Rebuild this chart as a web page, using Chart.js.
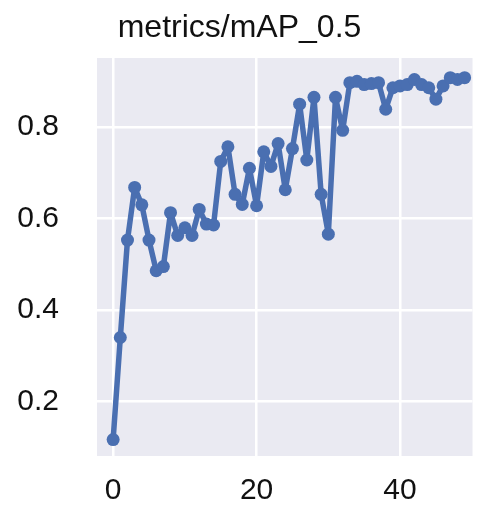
<!DOCTYPE html>
<html>
<head>
<meta charset="utf-8">
<script src="https://cdn.jsdelivr.net/npm/chart.js@4"></script>
<style>
  html, body { margin: 0; padding: 0; background: #ffffff; }
  #wrap { width: 479px; height: 512px; }
</style>
</head>
<body>
<div id="wrap"><canvas id="myChart"></canvas></div>
<script>
// epochs and mAP@0.5 values
var epochs = [];
for (var i = 0; i < 50; i++) epochs.push(i);
var mapValues = [
  0.117, 0.340, 0.553, 0.668, 0.630, 0.553, 0.486, 0.495, 0.613, 0.563,
  0.580, 0.563, 0.620, 0.588, 0.586, 0.725, 0.757, 0.653, 0.631, 0.710,
  0.628, 0.746, 0.714, 0.764, 0.663, 0.753, 0.850, 0.728, 0.865, 0.653,
  0.566, 0.865, 0.793, 0.897, 0.900, 0.893, 0.895, 0.897, 0.839, 0.886,
  0.890, 0.893, 0.904, 0.893, 0.886, 0.861, 0.890, 0.908, 0.904, 0.908
];
var xTicks = [0, 20, 40];
var yTicks = [0.2, 0.4, 0.6, 0.8];
var chartTitle = 'metrics/mAP_0.5';

var fontFamily = '"Liberation Sans", Arial, sans-serif';

// seaborn style grey-blue panel behind the plot
var panelBg = {
  id: 'panelBg',
  beforeDraw: function (chart) {
    var a = chart.chartArea;
    var ctx = chart.ctx;
    ctx.save();
    ctx.fillStyle = '#eaeaf2';
    ctx.fillRect(a.left, a.top, a.right - a.left, a.bottom - a.top);
    ctx.restore();
  }
};

var ctx = document.getElementById('myChart').getContext('2d');
var myChart = new Chart(ctx, {
  type: 'line',
  data: {
    datasets: [{
      label: chartTitle,
      data: epochs.map(function (e, i) { return { x: e, y: mapValues[i] }; }),
      borderColor: '#4a6fb1',
      backgroundColor: '#4a6fb1',
      borderWidth: 5.5,
      borderJoinStyle: 'round',
      borderCapStyle: 'round',
      pointRadius: 6.5,
      pointHoverRadius: 6.5,
      pointBorderWidth: 0,
      tension: 0,
      clip: false
    }]
  },
  options: {
    responsive: true,
    maintainAspectRatio: false,
    animation: false,
    layout: { padding: { left: 0, right: 0, top: 0, bottom: 0 } },
    plugins: {
      legend: { display: false },
      tooltip: { enabled: false },
      title: {
        display: true,
        text: chartTitle,
        color: '#111111',
        font: { family: fontFamily, size: 32, weight: 'normal' },
        padding: { top: 9, bottom: 10.6 }
      }
    },
    scales: {
      x: {
        type: 'linear',
        min: -2.25,
        max: 50.1,
        afterBuildTicks: function (scale) {
          scale.ticks = xTicks.map(function (v) { return { value: v }; });
        },
        afterFit: function (scale) { scale.height = 50; },
        grid: { color: '#ffffff', lineWidth: 2.5, drawTicks: false },
        border: { display: false },
        ticks: {
          color: '#111111',
          padding: 17,
          maxRotation: 0,
          font: { family: fontFamily, size: 30 }
        }
      },
      y: {
        min: 0.081,
        max: 0.951,
        afterBuildTicks: function (scale) {
          scale.ticks = yTicks.map(function (v) { return { value: v }; });
        },
        afterFit: function (scale) { scale.width = 97; },
        grid: { color: '#ffffff', lineWidth: 2.5, drawTicks: false },
        border: { display: false },
        ticks: {
          color: '#111111',
          padding: 38,
          font: { family: fontFamily, size: 30 },
          callback: function (v) { return v.toFixed(1); }
        }
      }
    }
  },
  plugins: [panelBg]
});
</script>
</body>
</html>
